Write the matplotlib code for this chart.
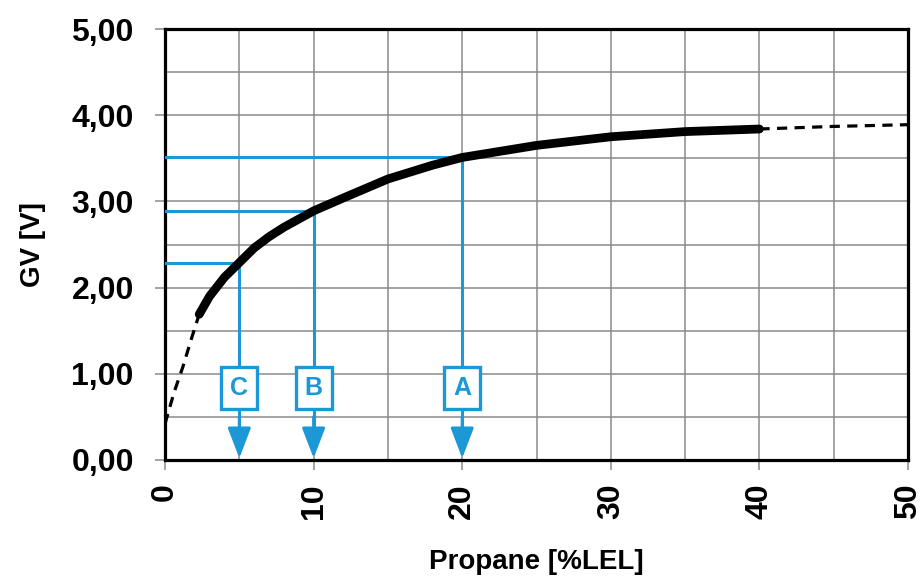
import matplotlib.pyplot as plt
from matplotlib.ticker import MultipleLocator, FuncFormatter

plt.rcParams['font.family'] = ['Liberation Sans', 'DejaVu Sans']
plt.rcParams['font.weight'] = 'bold'

blue = '#1b98d5'

# sensor curve
curveX = [2.3, 3, 4, 5, 6, 7, 8, 10, 12, 15, 18, 20, 25, 30, 35, 40]
curveY = [1.69, 1.90, 2.12, 2.29, 2.46, 2.59, 2.70, 2.89, 3.04, 3.26, 3.42, 3.51, 3.65, 3.75, 3.81, 3.84]
lowX = [0, 0.6, 1.2, 1.8, 2.3]   # extrapolated part below the measured range
lowY = [0.42, 0.78, 1.08, 1.42, 1.69]
highX = [40, 45, 50]              # extrapolated part above
highY = [3.84, 3.87, 3.89]

# reading examples
markNames = ['C', 'B', 'A']
markX = [5, 10, 20]
markY = [2.29, 2.89, 3.51]
boxY = 0.83

fig = plt.figure(figsize=(9.24, 5.77), dpi=100)
ax = fig.add_axes([0.1786, 0.2028, 0.9827 - 0.1786, 0.9497 - 0.2028])

ax.set_xlim(0, 50)
ax.set_ylim(0, 5)
ax.xaxis.set_major_locator(MultipleLocator(10))
ax.xaxis.set_minor_locator(MultipleLocator(5))
ax.yaxis.set_major_locator(MultipleLocator(1))
ax.yaxis.set_minor_locator(MultipleLocator(0.5))
ax.yaxis.set_major_formatter(FuncFormatter(lambda v, p: ('%.2f' % v).replace('.', ',')))
ax.grid(which='both', color='#8a8a8a', linewidth=1.1)
ax.set_axisbelow(True)
ax.tick_params(which='major', length=7.5, width=1.1, color='#8a8a8a')
ax.tick_params(which='minor', length=0)
ax.tick_params(axis='y', labelsize=23, pad=15)
ax.tick_params(axis='x', labelsize=23, pad=9, labelrotation=90)
for s in ax.spines.values():
    s.set_linewidth(2.3)

# blue reading lines
for i in range(len(markNames)):
    ax.plot([0, markX[i], markX[i]], [markY[i], markY[i], 0.3], color=blue, lw=2.2, zorder=3,
            solid_joinstyle='miter')
    ax.annotate('', xy=(markX[i], 0.02), xytext=(markX[i], 0.5),
                arrowprops=dict(arrowstyle='-|>,head_length=0.55,head_width=0.21', color=blue, lw=2.2,
                                mutation_scale=34, shrinkA=0, shrinkB=0), zorder=3)
    ax.text(markX[i], boxY, markNames[i], color=blue, fontsize=18, fontweight='bold',
            ha='center', va='center', zorder=5,
            bbox=dict(boxstyle='square,pad=0.36', fc='white', ec=blue, lw=2.4))

ax.plot(lowX, lowY, color='black', lw=2.3, ls=(0, (3.2, 2.3)), zorder=4)
ax.plot(highX, highY, color='black', lw=2.3, ls=(0, (3.2, 2.3)), zorder=4)
ax.plot(curveX, curveY, color='black', lw=6.3, solid_capstyle='round', zorder=4)

ax.set_xlabel('Propane [%LEL]', fontsize=20, fontweight='bold', labelpad=22)
ax.set_ylabel('GV [V]', fontsize=20, fontweight='bold', labelpad=18)

fig.savefig('out.png', dpi=100)
